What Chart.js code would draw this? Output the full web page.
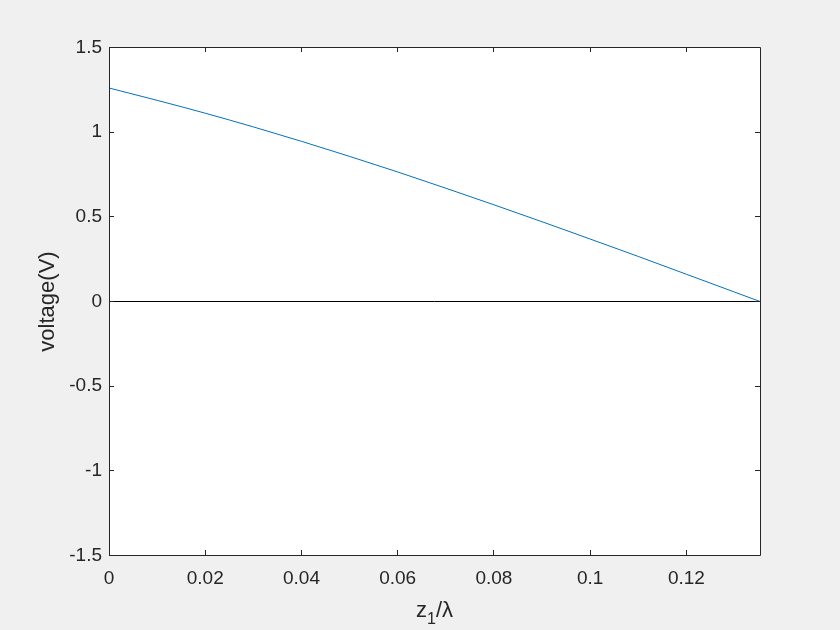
<!DOCTYPE html>
<html>
<head>
<meta charset="utf-8">
<script src="https://cdn.jsdelivr.net/npm/chart.js@4/dist/chart.umd.min.js"></script>
<style>
  body { margin: 0; background: #f0f0f0; }
  canvas { display: block; }
</style>
</head>
<body>
<canvas id="voltChart" width="840" height="630"></canvas>
<script>
// position along the line, in wavelengths
const zPos = [0, 0.01, 0.02, 0.03, 0.04, 0.05, 0.06, 0.07, 0.08, 0.09, 0.10, 0.11, 0.12, 0.13, 0.1353];
// voltage
const voltage = [1.261, 1.188, 1.112, 1.031, 0.946, 0.857, 0.765, 0.669, 0.571, 0.471, 0.369, 0.266, 0.161, 0.056, 0];
// reference line at zero
const zeroLine = [0, 0];
const zeroPos = [0, 0.1353];

const xTicks = [0, 0.02, 0.04, 0.06, 0.08, 0.1, 0.12];
const yTicks = [-1.5, -1, -0.5, 0, 0.5, 1, 1.5];

const axisColor = "#262626";
const fontFam = "Arial, 'Liberation Sans', Helvetica, sans-serif";

// figure background, white axes box, outline, inward ticks, x label with subscript
const matlabFrame = {
  id: "matlabFrame",
  beforeDraw(chart) {
    const { ctx, chartArea: a } = chart;
    ctx.save();
    ctx.fillStyle = "#f0f0f0";
    ctx.fillRect(0, 0, chart.width, chart.height);
    ctx.fillStyle = "#ffffff";
    ctx.fillRect(a.left, a.top, a.right - a.left, a.bottom - a.top);
    ctx.restore();
  },
  afterDraw(chart) {
    const { ctx, chartArea: a, scales } = chart;
    ctx.save();
    ctx.strokeStyle = axisColor;
    ctx.lineWidth = 1;
    ctx.beginPath();
    const L = Math.floor(a.left), T = Math.floor(a.top);
    const R = Math.floor(a.right), B = Math.floor(a.bottom);
    ctx.rect(L + 0.5, T + 0.5, R - L, B - T);
    const len = 5;
    xTicks.forEach(v => {
      const px = Math.floor(scales.x.getPixelForValue(v)) + 0.5;
      ctx.moveTo(px, B); ctx.lineTo(px, B - len);
      ctx.moveTo(px, T); ctx.lineTo(px, T + len);
    });
    yTicks.forEach(v => {
      const py = Math.floor(scales.y.getPixelForValue(v)) + 0.5;
      ctx.moveTo(L, py); ctx.lineTo(L + len, py);
      ctx.moveTo(R, py); ctx.lineTo(R - len, py);
    });
    ctx.stroke();

    // x axis label: z_1/λ
    const big = "22px " + fontFam, small = "16px " + fontFam;
    ctx.fillStyle = axisColor;
    ctx.textBaseline = "alphabetic";
    ctx.textAlign = "left";
    ctx.font = big;
    const wz = ctx.measureText("z").width, wr = ctx.measureText("/\u03bb").width;
    ctx.font = small;
    const w1 = ctx.measureText("1").width;
    let x = (a.left + a.right) / 2 - (wz + w1 + wr) / 2;
    const base = 617;
    ctx.font = big; ctx.fillText("z", x, base); x += wz;
    ctx.font = small; ctx.fillText("1", x, base + 7); x += w1;
    ctx.font = big; ctx.fillText("/\u03bb", x, base);
    ctx.restore();
  }
};

new Chart(document.getElementById("voltChart"), {
  type: "line",
  data: {
    datasets: [
      {
        label: "voltage",
        data: zPos.map((z, i) => ({ x: z, y: voltage[i] })),
        borderColor: "#0072BD",
        borderWidth: 1,
        pointRadius: 0,
        cubicInterpolationMode: "monotone",
        fill: false
      },
      {
        label: "zero",
        data: zeroPos.map((z, i) => ({ x: z, y: zeroLine[i] })),
        borderColor: "#000000",
        borderWidth: 1,
        pointRadius: 0,
        fill: false
      }
    ]
  },
  options: {
    responsive: false,
    animation: false,
    layout: { padding: { left: 0, top: 47.5, right: 80, bottom: 0 } },
    plugins: {
      legend: { display: false },
      tooltip: { enabled: false }
    },
    scales: {
      x: {
        type: "linear",
        min: 0,
        max: 0.1353,
        grid: { display: false, drawTicks: false },
        border: { display: false },
        afterBuildTicks(scale) { scale.ticks = xTicks.map(v => ({ value: v })); },
        afterFit(scale) { scale.height = 74.5; },
        ticks: {
          color: axisColor,
          padding: 12,
          maxRotation: 0,
          font: { family: fontFam, size: 19 },
          callback: v => String(Number(v.toFixed(2)))
        },
        title: { display: false }
      },
      y: {
        type: "linear",
        min: -1.5,
        max: 1.5,
        grid: { display: false, drawTicks: false },
        border: { display: false },
        afterBuildTicks(scale) { scale.ticks = yTicks.map(v => ({ value: v })); },
        afterFit(scale) { scale.width = 109; },
        ticks: {
          color: axisColor,
          padding: 7,
          font: { family: fontFam, size: 19 },
          callback: v => String(v)
        },
        title: {
          display: true,
          text: "voltage(V)",
          color: axisColor,
          font: { family: fontFam, size: 22 },
          padding: { top: 35, bottom: 0 }
        }
      }
    }
  },
  plugins: [matlabFrame]
});
</script>
</body>
</html>
